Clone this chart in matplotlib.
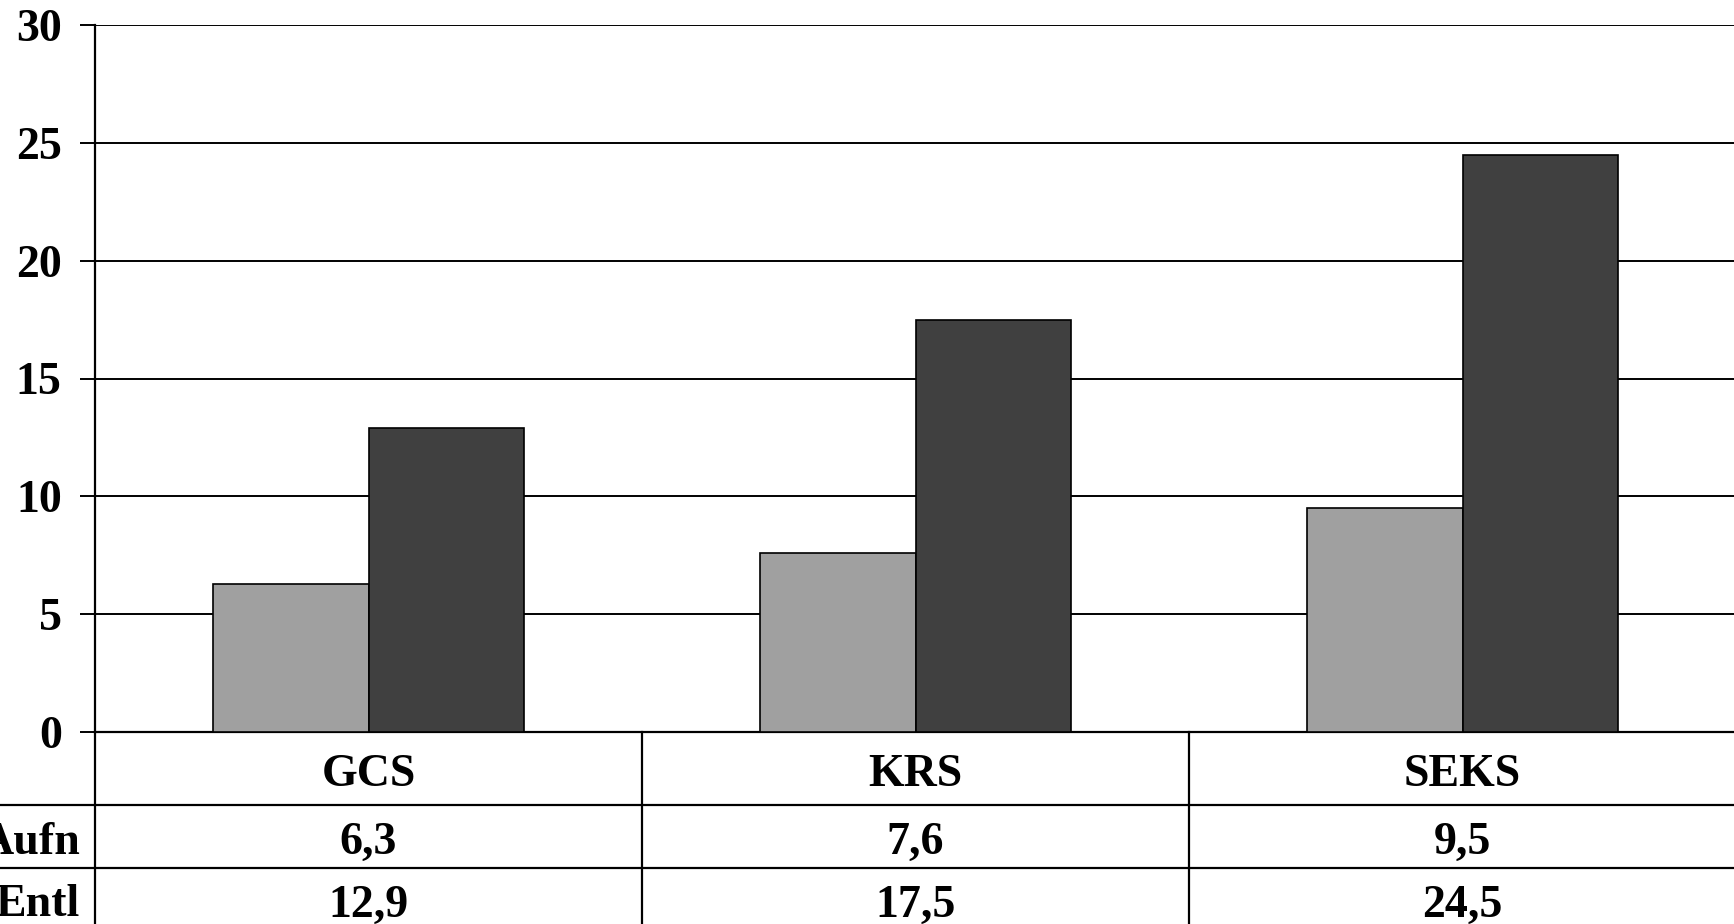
import matplotlib

matplotlib.use("Agg")
import matplotlib.pyplot as plt
import numpy as np

categories = ["GCS", "KRS", "SEKS"]
series_names = ["Aufn", "Entl"]
aufn = [6.3, 7.6, 9.5]
entl = [12.9, 17.5, 24.5]
yticks = [0, 5, 10, 15, 20, 25, 30]

W, H = 1734, 924
plt.rcParams["font.family"] = ["Liberation Serif", "DejaVu Serif"]
plt.rcParams["font.weight"] = "bold"

fig = plt.figure(figsize=(W / 100, H / 100), dpi=100)
left, right, top, bottom = 95, 1736, 25, 732
ax = fig.add_axes([left / W, 1 - bottom / H, (right - left) / W, (bottom - top) / H])

x = np.arange(len(categories))
bw = 0.285
ax.bar(x - bw / 2, aufn, bw, color="#a0a0a0", edgecolor="black", linewidth=1.2, zorder=3)
ax.bar(x + bw / 2, entl, bw, color="#404040", edgecolor="black", linewidth=1.2, zorder=3)

fs = 33
ax.set_xlim(-0.5, len(categories) - 0.5)
ax.set_ylim(0, 30)
ax.set_yticks(yticks)
ax.set_yticklabels([str(t) for t in yticks], fontsize=fs, fontweight="bold")
ax.tick_params(axis="y", length=11, width=1.4, pad=13, color="black")
ax.set_xticks([])
ax.grid(axis="y", color="black", linewidth=1.4, zorder=0)
for s in ("top", "right"):
    ax.spines[s].set_visible(False)
ax.spines["left"].set_linewidth(1.6)
ax.spines["bottom"].set_linewidth(1.6)

# data table under the axis
axh = bottom - top
rows_px = [0, 73, 136, 199]
ry = [-r / axh for r in rows_px]
tr = ax.get_xaxis_transform()
cat_w = (right - left) / len(categories)
x_fig0 = -0.5 - left / cat_w
kw = dict(color="black", linewidth=1.6, transform=tr, clip_on=False)
ax.plot([-0.5, -0.5], [0, ry[-1]], **kw)
for b in np.arange(0.5, len(categories) - 0.5):
    ax.plot([b, b], [0, ry[-1]], **kw)
for yy in ry[1:3]:
    ax.plot([x_fig0, len(categories) - 0.5], [yy, yy], **kw)

shift = -6 / axh
tkw = dict(transform=tr, fontsize=fs, fontweight="bold", va="center", clip_on=False)
for i, c in enumerate(categories):
    ax.text(i, (ry[0] + ry[1]) / 2 + shift, c, ha="center", **tkw)
for r, (name, vals) in enumerate(zip(series_names, [aufn, entl])):
    yc = (ry[r + 1] + ry[r + 2]) / 2 + shift
    ax.text(-0.5 - 15 / cat_w, yc, name, ha="right", **tkw)
    for i, v in enumerate(vals):
        ax.text(i, yc, f"{v:.1f}".replace(".", ","), ha="center", **tkw)

fig.savefig("out.png", dpi=100)
